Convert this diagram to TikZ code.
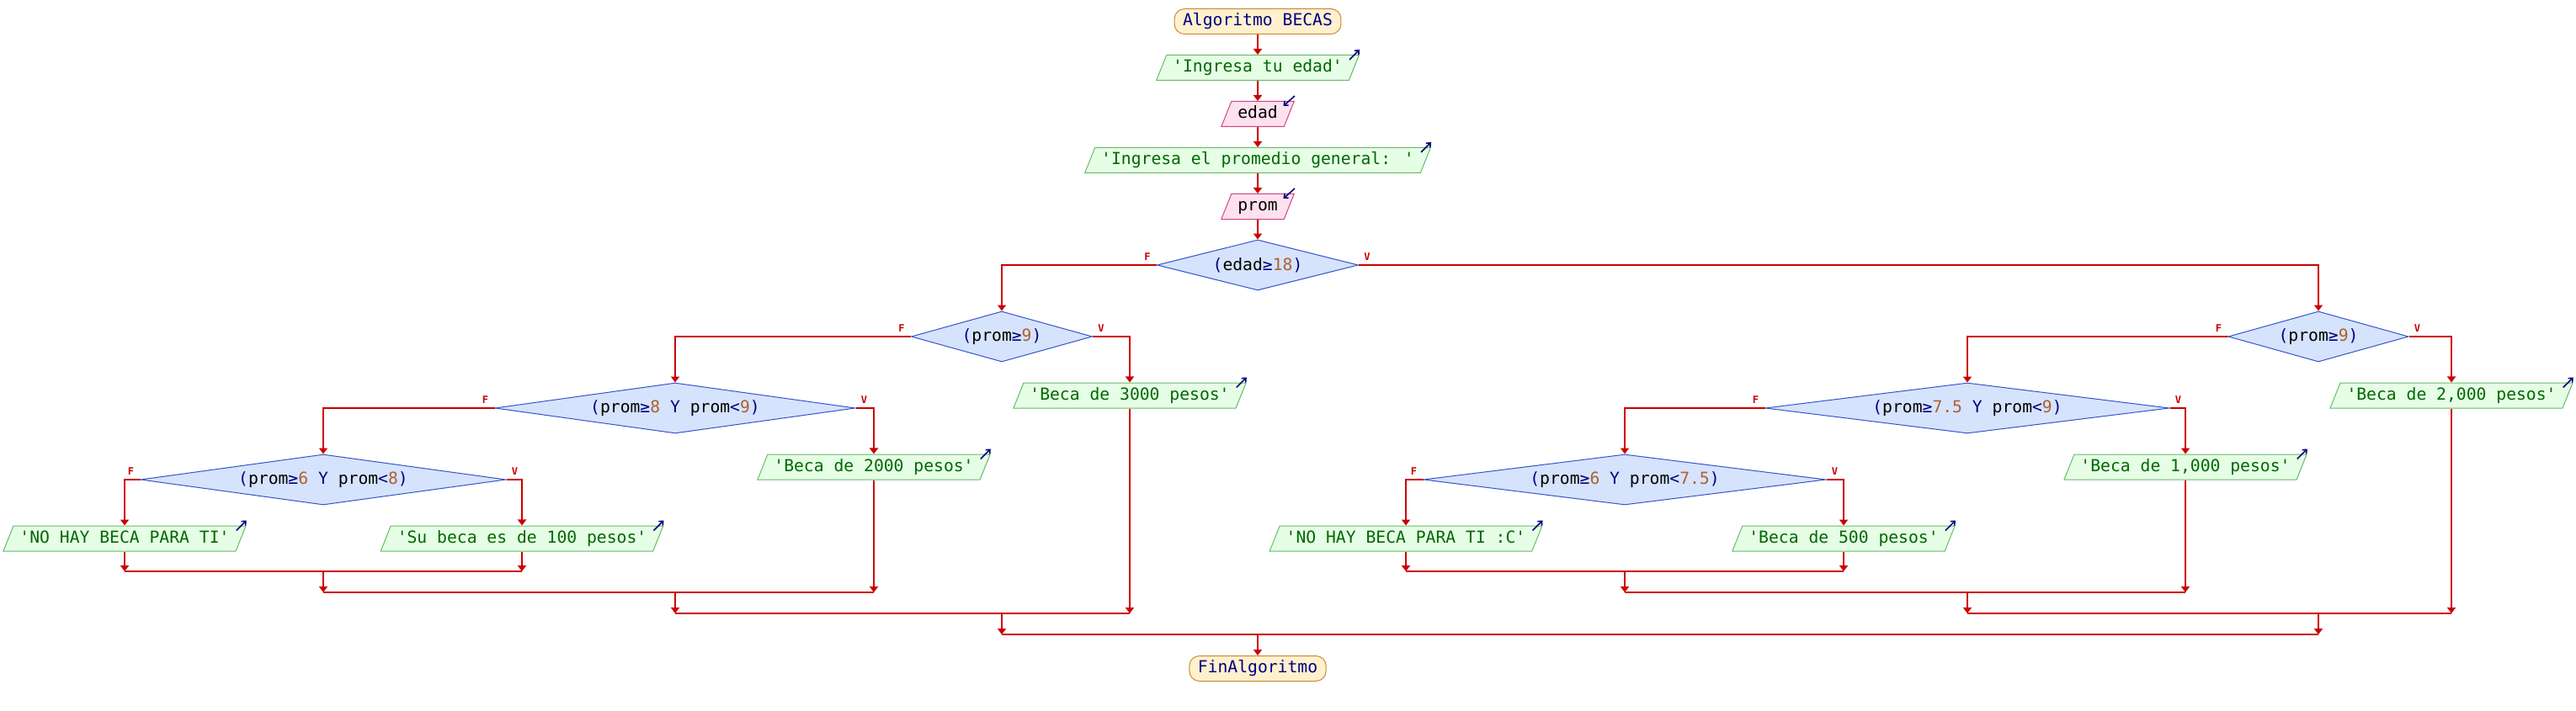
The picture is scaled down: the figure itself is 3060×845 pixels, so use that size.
\documentclass[tikz,border=0pt]{standalone}
\usepackage{fontspec}
\newfontfamily\flowmono{DejaVu Sans Mono}
\usetikzlibrary{shapes.geometric,arrows.meta}
\definecolor{flow}{RGB}{204,0,0}
\definecolor{navyc}{RGB}{0,0,128}
\definecolor{numc}{RGB}{176,96,48}
\definecolor{termfill}{RGB}{255,241,206}
\definecolor{termborder}{RGB}{204,136,51}
\definecolor{outfill}{RGB}{230,253,230}
\definecolor{outborder}{RGB}{102,187,102}
\definecolor{outtext}{RGB}{0,105,0}
\definecolor{infill}{RGB}{255,225,238}
\definecolor{inborder}{RGB}{204,68,136}
\definecolor{condfill}{RGB}{214,227,252}
\definecolor{condborder}{RGB}{51,85,204}
\newcommand{\flowfont}{\flowmono\fontsize{19.7}{22}\selectfont}
\newcommand{\kwc}[1]{\textcolor{navyc}{#1}}
\newcommand{\nmc}[1]{\textcolor{numc}{#1}}
\tikzset{
  flowline/.style={draw=flow, line width=2pt, -{Triangle[width=10pt,length=7pt]}},
  joinline/.style={draw=flow, line width=2pt},
  term/.style={rectangle, rounded corners=12pt, draw=termborder, fill=termfill, line width=1pt,
    text=navyc, font=\flowfont, inner xsep=10pt, inner ysep=6pt, text height=14pt, text depth=4pt},
  outbox/.style={trapezium, trapezium left angle=68.2, trapezium right angle=111.8,
    draw=outborder, fill=outfill, line width=1pt, text=outtext, font=\flowfont,
    inner xsep=7.5pt, inner ysep=6pt, text height=14pt, text depth=4pt},
  inbox/.style={outbox, draw=inborder, fill=infill, text=black},
  cond/.style={diamond, draw=condborder, fill=condfill, line width=1pt, font=\flowfont,
    text=black, inner sep=0pt, minimum height=60pt},
  lbl/.style={text=flow, font=\flowmono\bfseries\fontsize{12}{12}\selectfont, inner sep=0pt},
  iconarrow/.style={draw=navyc, line width=1.6pt, -{Straight Barb[length=4pt,width=7pt]}},
}
\begin{document}
\begin{tikzpicture}[x=1pt,y=-1pt]
\useasboundingbox[fill=white] (0,0) rectangle (3060,845);

% main column
\node[term] (start) at (1494,25.5) {Algoritmo BECAS};
\node[outbox] (out1) at (1494,80.5) {'Ingresa tu edad'};
\node[inbox] (in1) at (1494,135.5) {edad};
\node[outbox] (out2) at (1494,190.5) {'Ingresa el promedio general: '};
\node[inbox] (in2) at (1494,245.5) {prom};
\node[cond, minimum width=239pt, aspect=3.98] (d0) at (1494,315) {\kwc{(}edad\kwc{≥}\nmc{18}\kwc{)}};

% left subtree
\node[cond, minimum width=215pt, aspect=3.58] (dL1) at (1190,400) {\kwc{(}prom\kwc{≥}\nmc{9}\kwc{)}};
\node[outbox] (oL3) at (1342,470) {'Beca de 3000 pesos'};
\node[cond, minimum width=428pt, aspect=7.13] (dL2) at (802,485) {\kwc{(}prom\kwc{≥}\nmc{8} \kwc{Y} prom\kwc{<}\nmc{9}\kwc{)}};
\node[outbox] (oL2) at (1038,555) {'Beca de 2000 pesos'};
\node[cond, minimum width=434pt, aspect=7.23] (dL3) at (384,570) {\kwc{(}prom\kwc{≥}\nmc{6} \kwc{Y} prom\kwc{<}\nmc{8}\kwc{)}};
\node[outbox] (oL0) at (148,640) {'NO HAY BECA PARA TI'};
\node[outbox] (oL1) at (620,640) {'Su beca es de 100 pesos'};

% right subtree
\node[cond, minimum width=214pt, aspect=3.57] (dR1) at (2754,400) {\kwc{(}prom\kwc{≥}\nmc{9}\kwc{)}};
\node[outbox] (oR3) at (2912,470) {'Beca de 2,000 pesos'};
\node[cond, minimum width=480pt, aspect=8] (dR2) at (2337,485) {\kwc{(}prom\kwc{≥}\nmc{7.5} \kwc{Y} prom\kwc{<}\nmc{9}\kwc{)}};
\node[outbox] (oR2) at (2596,555) {'Beca de 1,000 pesos'};
\node[cond, minimum width=478pt, aspect=7.97] (dR3) at (1930,570) {\kwc{(}prom\kwc{≥}\nmc{6} \kwc{Y} prom\kwc{<}\nmc{7.5}\kwc{)}};
\node[outbox] (oR0) at (1670,640) {'NO HAY BECA PARA TI :C'};
\node[outbox] (oR1) at (2190,640) {'Beca de 500 pesos'};

\node[term] (fin) at (1494,794.5) {FinAlgoritmo};

% join points
\coordinate (jL3) at (384,679);
\coordinate (jL2) at (802,704);
\coordinate (jL1) at (1190,729);
\coordinate (jR3) at (1930,679);
\coordinate (jR2) at (2337,704);
\coordinate (jR1) at (2754,729);
\coordinate (j0) at (1494,754);

% main flow
\draw[flowline] (start) -- (out1);
\draw[flowline] (out1) -- (in1);
\draw[flowline] (in1) -- (out2);
\draw[flowline] (out2) -- (in2);
\draw[flowline] (in2) -- (d0);

% d0 branches
\draw[flowline] (d0.west) -| (dL1.north);
\draw[flowline] (d0.east) -| (dR1.north);

% left subtree
\draw[flowline] (dL1.east) -| (oL3.north);
\draw[flowline] (dL1.west) -| (dL2.north);
\draw[flowline] (dL2.east) -| (oL2.north);
\draw[flowline] (dL2.west) -| (dL3.north);
\draw[flowline] (dL3.west) -| (oL0.north);
\draw[flowline] (dL3.east) -| (oL1.north);
\draw[flowline] (oL0.south) -- (oL0.south |- jL3);
\draw[flowline] (oL1.south) -- (oL1.south |- jL3);
\draw[joinline] (oL0.south |- jL3) -- (oL1.south |- jL3);
\draw[flowline] (jL3) -- (jL3 |- jL2);
\draw[flowline] (oL2.south) -- (oL2.south |- jL2);
\draw[joinline] (jL3 |- jL2) -- (oL2.south |- jL2);
\draw[flowline] (jL2) -- (jL2 |- jL1);
\draw[flowline] (oL3.south) -- (oL3.south |- jL1);
\draw[joinline] (jL2 |- jL1) -- (oL3.south |- jL1);
\draw[flowline] (jL1) -- (jL1 |- j0);

% right subtree
\draw[flowline] (dR1.east) -| (oR3.north);
\draw[flowline] (dR1.west) -| (dR2.north);
\draw[flowline] (dR2.east) -| (oR2.north);
\draw[flowline] (dR2.west) -| (dR3.north);
\draw[flowline] (dR3.west) -| (oR0.north);
\draw[flowline] (dR3.east) -| (oR1.north);
\draw[flowline] (oR0.south) -- (oR0.south |- jR3);
\draw[flowline] (oR1.south) -- (oR1.south |- jR3);
\draw[joinline] (oR0.south |- jR3) -- (oR1.south |- jR3);
\draw[flowline] (jR3) -- (jR3 |- jR2);
\draw[flowline] (oR2.south) -- (oR2.south |- jR2);
\draw[joinline] (jR3 |- jR2) -- (oR2.south |- jR2);
\draw[flowline] (jR2) -- (jR2 |- jR1);
\draw[flowline] (oR3.south) -- (oR3.south |- jR1);
\draw[joinline] (jR2 |- jR1) -- (oR3.south |- jR1);
\draw[flowline] (jR1) -- (jR1 |- j0);

% final join
\draw[joinline] (jL1 |- j0) -- (jR1 |- j0);
\draw[flowline] (j0) -- (fin);

% F / V labels
\node[lbl] (fd0) at ([shift={(-11,-10)}]d0.west) {F};
\node[lbl] (vd0) at ([shift={(10,-10)}]d0.east) {V};
\node[lbl] (fdL1) at ([shift={(-11,-10)}]dL1.west) {F};
\node[lbl] (vdL1) at ([shift={(10,-10)}]dL1.east) {V};
\node[lbl] (fdL2) at ([shift={(-11,-10)}]dL2.west) {F};
\node[lbl] (vdL2) at ([shift={(10,-10)}]dL2.east) {V};
\node[lbl] (fdL3) at ([shift={(-11,-10)}]dL3.west) {F};
\node[lbl] (vdL3) at ([shift={(10,-10)}]dL3.east) {V};
\node[lbl] (fdR1) at ([shift={(-11,-10)}]dR1.west) {F};
\node[lbl] (vdR1) at ([shift={(10,-10)}]dR1.east) {V};
\node[lbl] (fdR2) at ([shift={(-11,-10)}]dR2.west) {F};
\node[lbl] (vdR2) at ([shift={(10,-10)}]dR2.east) {V};
\node[lbl] (fdR3) at ([shift={(-11,-10)}]dR3.west) {F};
\node[lbl] (vdR3) at ([shift={(10,-10)}]dR3.east) {V};

% output icons
\foreach \n in {out1,out2,oL0,oL1,oL2,oL3,oR0,oR1,oR2,oR3}{
  \draw[iconarrow] ([shift={(-12,6)}]\n.top right corner) -- ([shift={(0,-6)}]\n.top right corner);
}
% input icons
\foreach \n in {in1,in2}{
  \draw[iconarrow] ([shift={(0,-6)}]\n.top right corner) -- ([shift={(-13.5,6)}]\n.top right corner);
}
\end{tikzpicture}
\end{document}
